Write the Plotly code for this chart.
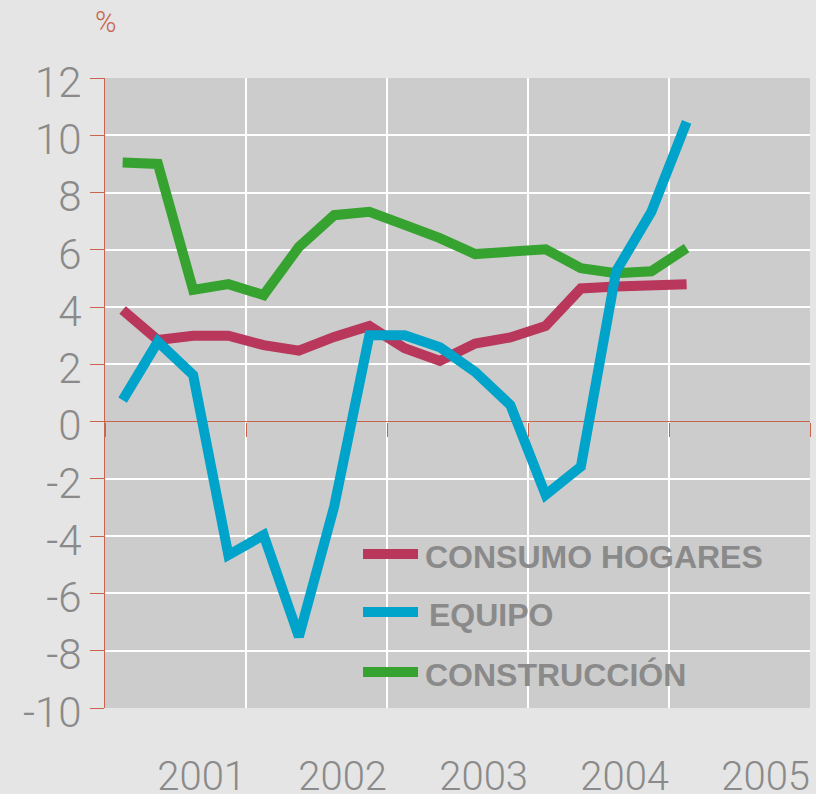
import plotly.graph_objects as go

# ---- data -------------------------------------------------------------
years = [2001]*4 + [2002]*4 + [2003]*4 + [2004]*4 + [2005]
quarters = [1, 2, 3, 4]*4 + [1]
consumo = [3.9, 2.85, 3.0, 3.0, 2.67, 2.48, 2.96, 3.34, 2.56, 2.12, 2.73, 2.94, 3.34, 4.65, 4.72, 4.79, 4.8]
equipo = [0.75, 2.79, 1.63, -4.66, -3.96, -7.51, -2.97, 3.02, 3.02, 2.6, 1.74, 0.58, -2.56, -1.57, 5.25, 7.33, 10.47]
construccion = [9.05, 9.0, 4.6, 4.8, 4.42, 6.1, 7.21, 7.33, 6.87, 6.41, 5.85, 5.93, 6.02, 5.36, 5.18, 5.25, 6.06]
year_ticks = [2001, 2002, 2003, 2004, 2005]
year_labels = ["2001", "2002", "2003", "2004", "2005"]
y_ticks = [-10, -8, -6, -4, -2, 0, 2, 4, 6, 8, 10, 12]
y_labels = ["-10", "-8", "-6", "-4", "-2", "0", "2", "4", "6", "8", "10", "12"]
series_names = ["CONSUMO HOGARES", "EQUIPO", "CONSTRUCCIÓN"]

# ---- styles -----------------------------------------------------------
colors = {"CONSUMO HOGARES": "#b8375b", "EQUIPO": "#00a3c9", "CONSTRUCCIÓN": "#36a22f"}
AXIS_RED = "#c8654f"
GREY = "#8a8a8a"
LIGHT_FONT = "Roboto"

x = [(y - year_ticks[0]) + (q - 0.5) / 4 for y, q in zip(years, quarters)]
values = {"CONSUMO HOGARES": consumo, "EQUIPO": equipo, "CONSTRUCCIÓN": construccion}

fig = go.Figure()
for name in ["CONSUMO HOGARES", "CONSTRUCCIÓN", "EQUIPO"]:
    fig.add_trace(go.Scatter(x=x, y=values[name], mode="lines", name=name,
                             line=dict(color=colors[name], width=10),
                             showlegend=False, hoverinfo="skip"))

# invisible trace to carry the tick marks on the zero line
fig.add_trace(go.Scatter(x=[0, 5], y=[0, 0], xaxis="x2", mode="lines",
                         line=dict(width=0), showlegend=False, hoverinfo="skip"))

grid_x = [t - year_ticks[0] + 1 for t in year_ticks]

fig.update_layout(
    width=816, height=794,
    margin=dict(l=105, r=6, t=78, b=86, autoexpand=False),
    paper_bgcolor="#e5e5e5",
    plot_bgcolor="#cccccc",
    xaxis=dict(range=[0, 5], tickvals=grid_x, ticktext=year_labels,
               showgrid=True, gridcolor="#ffffff", gridwidth=1.5,
               zeroline=False, showline=False, ticks="", automargin=False,
               ticklabelposition="outside left", ticklabelstandoff=41,
               tickfont=dict(family=LIGHT_FONT, size=40, color=GREY, weight=300)),
    xaxis2=dict(range=[0, 5], overlaying="x", anchor="free", position=10/22,
                tickvals=[0] + grid_x, ticks="outside", ticklen=14, tickwidth=1,
                tickcolor=AXIS_RED, showticklabels=False, showgrid=False,
                zeroline=False, showline=False, automargin=False),
    yaxis=dict(range=[-10, 12], tickvals=y_ticks, ticktext=y_labels,
               showgrid=True, gridcolor="#ffffff", gridwidth=1.5,
               zeroline=True, zerolinecolor=AXIS_RED, zerolinewidth=1,
               showline=True, linecolor=AXIS_RED, linewidth=1, automargin=False,
               ticks="outside", ticklen=14, tickcolor=AXIS_RED, tickwidth=1,
               ticklabelshift=4,
               tickfont=dict(family=LIGHT_FONT, size=42, color=GREY, weight=300)),
    font=dict(family=LIGHT_FONT, color=GREY),
)

# "%" unit label
fig.add_annotation(text="%", xref="paper", yref="paper", x=0.0, y=1 + 56/630,
                   xanchor="center", yanchor="middle", showarrow=False,
                   font=dict(family=LIGHT_FONT, size=29, color=AXIS_RED, weight=300))

# custom legend
legend_y = [0.2444, 0.1524, 0.0571]
legend_shift = [0, 4, 0]
for name, ly, sh in zip(series_names, legend_y, legend_shift):
    fig.add_shape(type="line", xref="paper", yref="paper",
                  x0=0.366, x1=0.444, y0=ly, y1=ly,
                  line=dict(color=colors[name], width=10))
    fig.add_annotation(text=name, xref="paper", yref="paper", x=0.451, y=ly - 0.004,
                       xanchor="left", yanchor="middle", showarrow=False, xshift=sh,
                       font=dict(family="Liberation Sans", size=32, color=GREY, weight="bold"))

fig.write_html("out.html", config={"displayModeBar": False},
               post_script="document.body.style.margin='0';"
                           "document.body.style.background='#e5e5e5';"
                           "document.body.style.overflow='hidden';")
